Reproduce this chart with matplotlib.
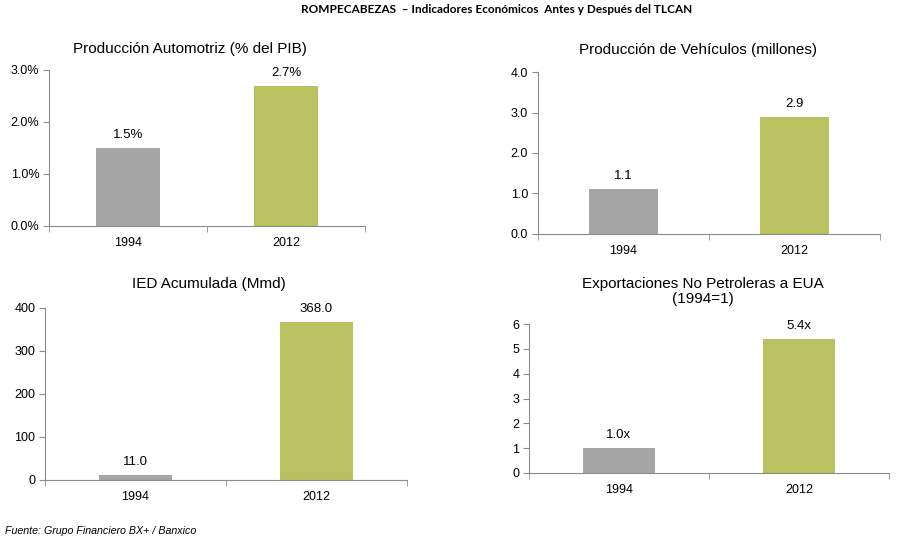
import matplotlib
matplotlib.use("Agg")
import matplotlib.pyplot as plt
from matplotlib.ticker import FuncFormatter

# Datos de los paneles
years = ["1994", "2012"]
auto_pib = [1.5, 2.7]
vehiculos = [1.1, 2.9]
ied = [11.0, 368.0]
exportaciones = [1.0, 5.4]

GRAY = "#A6A6A6"
GREEN = "#B9C160"
AXIS = "#8C8C8C"

plt.rcParams["font.family"] = ["Liberation Sans", "DejaVu Sans"]

fig = plt.figure(figsize=(8.98, 5.41), dpi=100)


def draw_panel(rect, values, title, ylim, yticks, ytick_fmt, label_fmt,
               title_x=0.5, title_pad=8):
    ax = fig.add_axes(rect)
    x = range(len(years))
    bars = ax.bar(x, values, width=0.4, color=[GRAY, GREEN])
    ax.set_xlim(-0.5, 1.5)
    ax.set_ylim(*ylim)
    ax.set_yticks(yticks)
    ax.yaxis.set_major_formatter(FuncFormatter(ytick_fmt))
    ax.set_xticks(list(x))
    ax.set_xticklabels(years)
    ax.set_xticks([-0.5, 0.5, 1.5], minor=True)
    ax.tick_params(axis="x", which="major", length=0, pad=8, labelsize=9)
    ax.tick_params(axis="x", which="minor", length=4, color=AXIS, direction="out")
    ax.tick_params(axis="y", length=4, color=AXIS, direction="out", labelsize=9, pad=3)
    for side in ["top", "right"]:
        ax.spines[side].set_visible(False)
    for side in ["left", "bottom"]:
        ax.spines[side].set_color(AXIS)
        ax.spines[side].set_linewidth(0.8)
    for bar, v in zip(bars, values):
        ax.annotate(label_fmt(v), (bar.get_x() + bar.get_width() / 2, v),
                    xytext=(0, 5), textcoords="offset points",
                    ha="center", va="bottom", fontsize=9.5)
    ax.set_title(title, fontsize=11, x=title_x, pad=title_pad, linespacing=1.1)
    return ax


draw_panel([0.0546, 0.5823, 0.352, 0.2884], auto_pib,
           "Producción Automotriz (% del PIB)", (0, 3.0), [0, 1, 2, 3],
           lambda v, p: f"{v:.1f}%", lambda v: f"{v:.1f}%",
           title_x=0.446, title_pad=12)

draw_panel([0.599, 0.5675, 0.381, 0.2994], vehiculos,
           "Producción de Vehículos (millones)", (0, 4.0), [0, 1, 2, 3, 4],
           lambda v, p: f"{v:.1f}", lambda v: f"{v:.1f}",
           title_x=0.468, title_pad=13)

draw_panel([0.0501, 0.1128, 0.403, 0.318], ied,
           "IED Acumulada (Mmd)", (0, 400), [0, 100, 200, 300, 400],
           lambda v, p: f"{v:.0f}", lambda v: f"{v:.1f}",
           title_x=0.454, title_pad=14)

draw_panel([0.589, 0.1257, 0.401, 0.2754], exportaciones,
           "Exportaciones No Petroleras a EUA\n(1994=1)", (0, 6), [0, 1, 2, 3, 4, 5, 6],
           lambda v, p: f"{v:.0f}", lambda v: f"{v:.1f}x",
           title_x=0.483, title_pad=15)

fig.text(0.553, 0.983, "ROMPECABEZAS  – Indicadores Económicos  Antes y Después del TLCAN",
         ha="center", va="center", fontsize=8.5, fontweight="bold",
         family=["Lato", "DejaVu Sans"])
fig.text(0.006, 0.018, "Fuente: Grupo Financiero BX+ / Banxico",
         ha="left", va="center", fontsize=7.7, style="italic")

fig.savefig("out.png", dpi=100)
